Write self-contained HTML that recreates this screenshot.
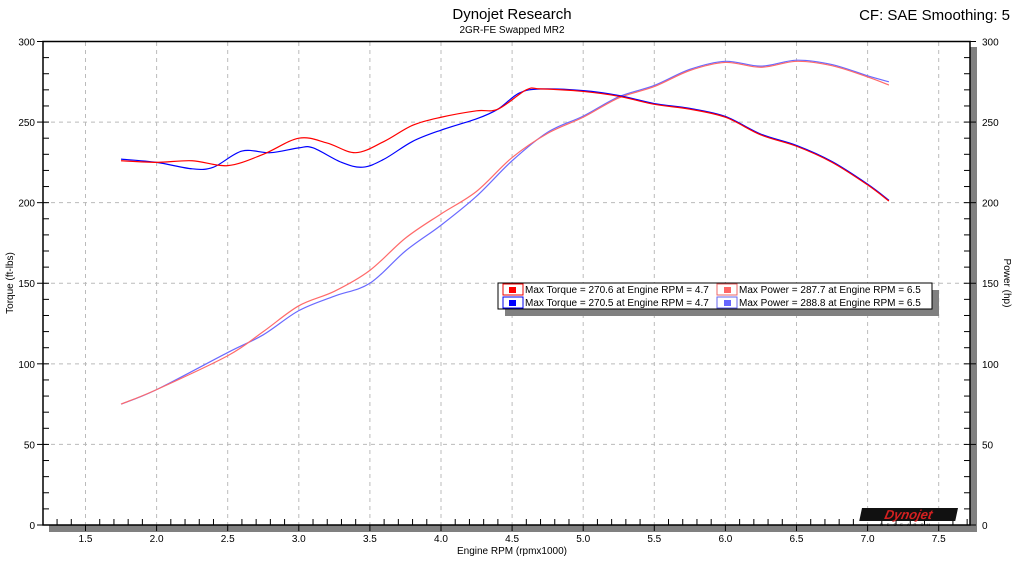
<!DOCTYPE html>
<html><head><meta charset="utf-8"><style>
body{margin:0;background:#fff;}
svg{display:block;font-family:"Liberation Sans",sans-serif;}
</style></head><body>
<svg id="s" width="1024" height="576" viewBox="0 0 1024 576">
<text x="512" y="19" font-size="15" text-anchor="middle">Dynojet Research</text>
<text x="512" y="33" font-size="10" text-anchor="middle">2GR-FE Swapped MR2</text>
<text x="1010" y="20" font-size="15" text-anchor="end">CF: SAE Smoothing: 5</text>
<rect x="970" y="47" width="7" height="485" fill="#808080"/>
<rect x="49" y="525" width="928" height="7" fill="#808080"/>
<g id="grid"></g>
<g id="curves"></g>
<rect x="43" y="41.5" width="927" height="483.5" fill="none" stroke="#000" stroke-width="1.5"/>
<g id="ticks"></g>
<text x="512" y="554" font-size="10" text-anchor="middle">Engine RPM (rpmx1000)</text>
<text transform="translate(13,283) rotate(-90)" font-size="10" text-anchor="middle">Torque (ft-lbs)</text>
<text transform="translate(1004,283) rotate(90)" font-size="10" text-anchor="middle">Power (hp)</text>
<g transform="translate(862,508) skewX(-12)">
<rect x="0" y="0" width="96" height="13" fill="#111"/>
<text x="48" y="11" font-size="13" font-weight="bold" font-style="italic" fill="#d42020" text-anchor="middle">Dynojet</text>
</g>
<text x="880" y="526" font-size="4" fill="#000" letter-spacing="4">RESEARCH</text>
<rect x="505" y="290" width="434" height="26" fill="#808080"/>
<rect x="498" y="283" width="434" height="26" fill="#fff" stroke="#000"/>
<rect x="503" y="284" width="20" height="11" fill="#fff" stroke="#e00"/><rect x="509" y="287" width="7" height="6" fill="#f00"/>
<rect x="503" y="297" width="20" height="11" fill="#fff" stroke="#00e"/><rect x="509" y="300" width="7" height="6" fill="#00f"/>
<rect x="717" y="284" width="20" height="11" fill="#fff" stroke="#e66"/><rect x="724" y="287" width="7" height="6" fill="#f66"/>
<rect x="717" y="297" width="20" height="11" fill="#fff" stroke="#66e"/><rect x="724" y="300" width="7" height="6" fill="#66f"/>
<text x="525" y="293" font-size="10">Max Torque = 270.6 at Engine RPM = 4.7</text>
<text x="525" y="306" font-size="10">Max Torque = 270.5 at Engine RPM = 4.7</text>
<text x="739" y="293" font-size="10">Max Power = 287.7 at Engine RPM = 6.5</text>
<text x="739" y="306" font-size="10">Max Power = 288.8 at Engine RPM = 6.5</text>
</svg>
<script>
const NS="http://www.w3.org/2000/svg";
const X=r=>85.5+(r-1.5)*142.2, Y=v=>525-v*1.6117;
function el(p,t,a){const e=document.createElementNS(NS,t);for(const k in a)e.setAttribute(k,a[k]);p.appendChild(e);return e;}
const g=document.getElementById('grid'),tk=document.getElementById('ticks'),cv=document.getElementById('curves');
for(let r=1.5;r<=7.51;r+=0.5){el(g,'line',{x1:X(r),x2:X(r),y1:42,y2:525,stroke:'#bbb','stroke-dasharray':'4,4'});
 const t=el(tk,'text',{x:X(r),y:542,'font-size':10,'text-anchor':'middle'});t.textContent=r.toFixed(1);}
for(let v=50;v<300;v+=50)el(g,'line',{x1:43,x2:970,y1:Y(v),y2:Y(v),stroke:'#bbb','stroke-dasharray':'4,4'});
for(let v=0;v<=300;v+=10){const big=v%50==0;
 el(tk,'line',{x1:big?37:43,x2:49,y1:Y(v),y2:Y(v),stroke:'#000'});
 el(tk,'line',{x1:964,x2:big?976:970,y1:Y(v),y2:Y(v),stroke:'#000'});
 if(big){let t=el(tk,'text',{x:35,y:Y(v)+4,'font-size':10,'text-anchor':'end'});t.textContent=v;
 t=el(tk,'text',{x:982,y:Y(v)+4,'font-size':10});t.textContent=v;}}
for(let r=1.3;r<=7.75;r+=0.1){const m=Math.abs(r*2-Math.round(r*2))<0.01;el(tk,'line',{x1:X(r),x2:X(r),y1:m?531:519,y2:525,stroke:'#000'});}
function path(pts,col){let d='';const P=pts.map(p=>[X(p[0]),Y(p[1])]);
 d='M'+P[0];for(let i=0;i<P.length-1;i++){const p0=P[i-1]||P[i],p1=P[i],p2=P[i+1],p3=P[i+2]||p2;
 d+=' C'+(p1[0]+(p2[0]-p0[0])/6)+','+(p1[1]+(p2[1]-p0[1])/6)+' '+(p2[0]-(p3[0]-p1[0])/6)+','+(p2[1]-(p3[1]-p1[1])/6)+' '+p2;}
 el(cv,'path',{d,fill:'none',stroke:col,'stroke-width':1.2});}
const tail=[[5.0,269],[5.25,266],[5.5,261],[5.75,258],[6.0,253],[6.25,242],[6.5,235],[6.75,225],[7.0,211],[7.15,201]];
const rt=[[1.75,226],[2.0,225],[2.25,226],[2.5,223],[2.75,230],[3.0,240],[3.2,237],[3.4,231],[3.6,238],[3.8,248],[4.0,253],[4.25,257],[4.4,258],[4.6,270],[4.7,270.6]].concat(tail);
const bt=[[1.75,227],[2.0,225],[2.25,221],[2.4,222],[2.6,232],[2.8,231],[3.0,234],[3.1,234],[3.3,225],[3.45,222],[3.6,227],[3.8,238],[4.0,245],[4.25,252],[4.4,258],[4.55,268],[4.7,270.5]].concat(tail.map(p=>[p[0],p[1]+0.5]));
const pt=[[4.75,243],[5.0,253],[5.25,265],[5.5,272],[5.75,282],[6.0,287],[6.25,284],[6.5,287.7],[6.75,285],[7.0,278],[7.15,273]];
const rp=[[1.75,75],[2.0,84],[2.5,105],[2.75,120],[3.0,136],[3.25,145],[3.5,158],[3.75,178],[4.0,193],[4.25,207],[4.5,228]].concat(pt);
const bp=[[1.75,75],[2.0,84],[2.5,107],[2.75,118],[3.0,133],[3.25,142],[3.5,150],[3.75,170],[4.0,186],[4.25,204],[4.5,226]].concat(pt.map(p=>[p[0],p[1]+(p[0]>7?2:0.7)]));
path(bp,'#6a6aff');path(rp,'#ff6a6a');path(bt,'#0000ff');path(rt,'#ff0000');
</script>
</body></html>
